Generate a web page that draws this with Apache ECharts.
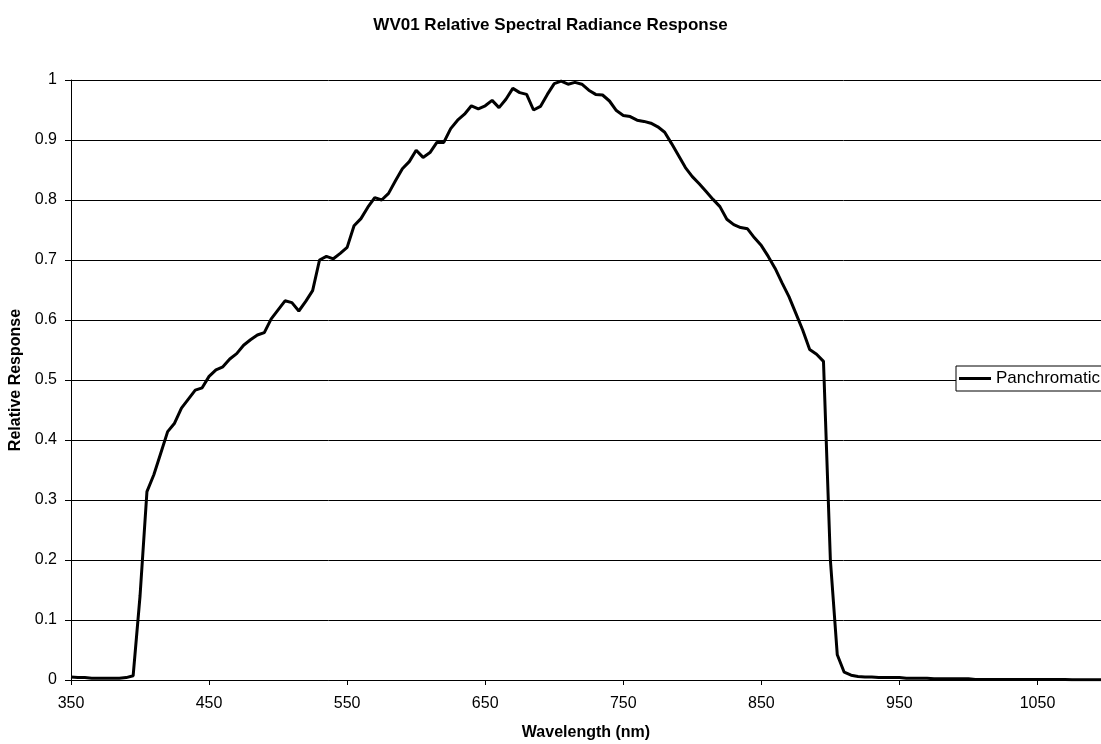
<!DOCTYPE html>
<html lang="en">
<head>
    <meta charset="UTF-8">
    <title>WV01 Relative Spectral Radiance Response</title>
    <script src="https://cdn.jsdelivr.net/npm/echarts@6.0.0/dist/echarts.min.js"></script>
    <style>
        html, body { margin: 0; padding: 0; background: #fff; }
        #chart { width: 1101px; height: 744px; }
    </style>
</head>
<body>
<div id="chart"></div>

<script>
    // wavelength samples (nm), 5 nm steps
    var wavelengths = [
        350, 355, 360, 365, 370, 375, 380, 385, 390, 395,
        400, 405, 410, 415, 420, 425, 430, 435, 440, 445,
        450, 455, 460, 465, 470, 475, 480, 485, 490, 495,
        500, 505, 510, 515, 520, 525, 530, 535, 540, 545,
        550, 555, 560, 565, 570, 575, 580, 585, 590, 595,
        600, 605, 610, 615, 620, 625, 630, 635, 640, 645,
        650, 655, 660, 665, 670, 675, 680, 685, 690, 695,
        700, 705, 710, 715, 720, 725, 730, 735, 740, 745,
        750, 755, 760, 765, 770, 775, 780, 785, 790, 795,
        800, 805, 810, 815, 820, 825, 830, 835, 840, 845,
        850, 855, 860, 865, 870, 875, 880, 885, 890, 895,
        900, 905, 910, 915, 920, 925, 930, 935, 940, 945,
        950, 955, 960, 965, 970, 975, 980, 985, 990, 995,
        1000, 1005, 1010, 1015, 1020, 1025, 1030, 1035, 1040, 1045,
        1050, 1055, 1060, 1065, 1070, 1075, 1080, 1085, 1090, 1095,
        1100
    ];

    // panchromatic relative response
    var panchromatic = [
        0.005, 0.004, 0.004, 0.003, 0.003, 0.003, 0.003, 0.003, 0.004, 0.007,
        0.140, 0.314, 0.342, 0.378, 0.414, 0.428, 0.453, 0.468, 0.483, 0.487,
        0.506, 0.517, 0.522, 0.535, 0.544, 0.558, 0.567, 0.575, 0.579, 0.602,
        0.617, 0.632, 0.629, 0.615, 0.631, 0.649, 0.700, 0.706, 0.702, 0.711,
        0.721, 0.757, 0.769, 0.788, 0.804, 0.800, 0.811, 0.832, 0.852, 0.864,
        0.883, 0.871, 0.879, 0.896, 0.896, 0.919, 0.933, 0.943, 0.957, 0.952,
        0.957, 0.966, 0.954, 0.968, 0.986, 0.979, 0.976, 0.950, 0.956, 0.976,
        0.994, 0.998, 0.993, 0.996, 0.993, 0.983, 0.976, 0.975, 0.965, 0.949,
        0.941, 0.939, 0.933, 0.931, 0.928, 0.922, 0.913, 0.894, 0.874, 0.854,
        0.839, 0.827, 0.814, 0.801, 0.789, 0.768, 0.759, 0.754, 0.752, 0.737,
        0.724, 0.706, 0.686, 0.662, 0.639, 0.611, 0.583, 0.551, 0.543, 0.531,
        0.200, 0.042, 0.013, 0.008, 0.006, 0.005, 0.005, 0.004, 0.004, 0.004,
        0.004, 0.003, 0.003, 0.003, 0.003, 0.002, 0.002, 0.002, 0.002, 0.002,
        0.002, 0.001, 0.001, 0.001, 0.001, 0.001, 0.001, 0.001, 0.001, 0.001,
        0.001, 0.001, 0.001, 0.001, 0.001, 0.0005, 0.0005, 0.0005, 0.0005, 0.0005,
        0.0005
    ];

    // x axis tick labels
    var xTicks = [350, 450, 550, 650, 750, 850, 950, 1050];

    var seriesData = [];
    for (var i = 0; i < wavelengths.length; i++) {
        seriesData.push([wavelengths[i], panchromatic[i]]);
    }

    var chart = echarts.init(document.getElementById('chart'));

    var option = {
        animation: false,
        backgroundColor: '#fff',
        textStyle: { fontFamily: 'Liberation Sans, Arial, sans-serif', color: '#000' },
        title: {
            text: 'WV01 Relative Spectral Radiance Response',
            left: 'center',
            top: 12,
            textStyle: { fontSize: 17, fontWeight: 'bold', color: '#000' }
        },
        legend: {
            left: 956,
            top: 366,
            orient: 'vertical',
            icon: 'rect',
            itemWidth: 32,
            itemHeight: 3,
            padding: [4, 12, 4, 3],
            borderColor: '#000',
            borderWidth: 1,
            backgroundColor: '#fff',
            selectedMode: false,
            textStyle: { fontSize: 17, color: '#000' },
            data: ['Panchromatic']
        },
        grid: { left: 71, right: 0, top: 80, bottom: 64, outerBoundsMode: 'none' },
        xAxis: {
            type: 'value',
            min: 350,
            max: 1096,
            name: 'Wavelength (nm)',
            nameLocation: 'middle',
            nameGap: 45,
            nameTextStyle: { fontSize: 16, fontWeight: 'bold', color: '#000' },
            axisLine: { lineStyle: { color: '#000', width: 1 } },
            axisTick: { length: 5, lineStyle: { color: '#000' }, customValues: xTicks },
            axisLabel: {
                fontSize: 16,
                color: '#000',
                margin: 16,
                customValues: xTicks,
                formatter: function (v) { return String(v); }
            },
            splitLine: { show: false }
        },
        yAxis: {
            type: 'value',
            min: 0,
            max: 1,
            interval: 0.1,
            name: 'Relative Response',
            nameLocation: 'middle',
            nameGap: 44,
            nameTextStyle: { fontSize: 16, fontWeight: 'bold', color: '#000' },
            axisLine: { show: true, lineStyle: { color: '#000', width: 1 } },
            axisTick: { show: true, length: 6, lineStyle: { color: '#000' } },
            axisLabel: { fontSize: 16, color: '#000', margin: 14 },
            splitLine: { lineStyle: { color: '#000', width: 1 } }
        },
        series: [
            {
                name: 'Panchromatic',
                type: 'line',
                data: seriesData,
                showSymbol: false,
                symbol: 'none',
                clip: true,
                color: '#000',
                lineStyle: { color: '#000', width: 3 },
                emphasis: { disabled: true }
            }
        ]
    };

    chart.setOption(option);

    window.addEventListener('resize', function () {
        chart.resize();
    });
</script>
</body>
</html>
